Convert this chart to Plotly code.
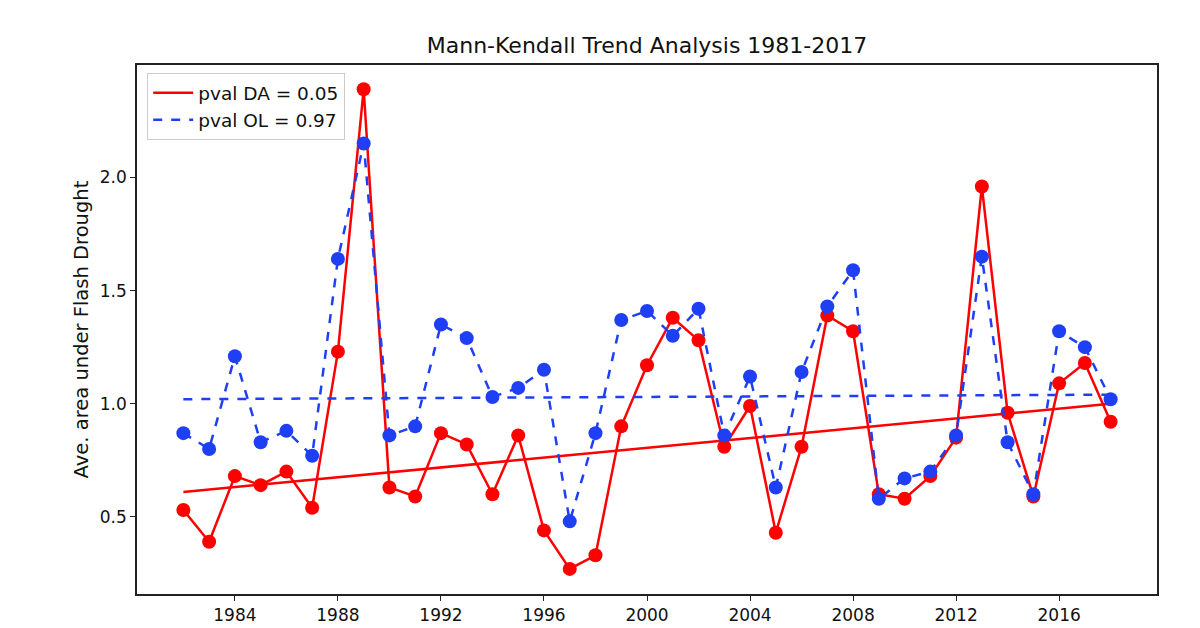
import plotly.graph_objects as go

years = list(range(1982, 2019))
da_values = [0.53, 0.39, 0.68, 0.64, 0.70, 0.54, 1.23, 2.39, 0.63, 0.59,
             0.87, 0.82, 0.60, 0.86, 0.44, 0.27, 0.33, 0.90, 1.17, 1.38,
             1.28, 0.81, 0.99, 0.43, 0.81, 1.39, 1.32, 0.60, 0.58, 0.68,
             0.85, 1.96, 0.96, 0.59, 1.09, 1.18, 0.92]
ol_values = [0.87, 0.80, 1.21, 0.83, 0.88, 0.77, 1.64, 2.15, 0.86, 0.90,
             1.35, 1.29, 1.03, 1.07, 1.15, 0.48, 0.87, 1.37, 1.41, 1.30,
             1.42, 0.86, 1.12, 0.63, 1.14, 1.43, 1.59, 0.58, 0.67, 0.70,
             0.86, 1.65, 0.83, 0.60, 1.32, 1.25, 1.02]
trend_years = [1982, 2018]
trend_da = [0.61, 1.00]
trend_ol = [1.02, 1.04]
legend_da = "pval DA = 0.05"
legend_ol = "pval OL = 0.97"
x_ticks = [1984, 1988, 1992, 1996, 2000, 2004, 2008, 2012, 2016]
y_ticks = [0.5, 1.0, 1.5, 2.0]

RED = "#ff0000"
BLUE = "#1f3ff5"

fig = go.Figure()
fig.add_trace(go.Scatter(x=years, y=da_values, mode="lines+markers", showlegend=False,
                         line=dict(color=RED, width=2.5),
                         marker=dict(color=RED, size=14)))
fig.add_trace(go.Scatter(x=trend_years, y=trend_da, mode="lines", name=legend_da,
                         line=dict(color=RED, width=2.5)))
fig.add_trace(go.Scatter(x=years, y=ol_values, mode="lines+markers", showlegend=False,
                         line=dict(color=BLUE, width=2.5, dash="dash"),
                         marker=dict(color=BLUE, size=14)))
fig.add_trace(go.Scatter(x=trend_years, y=trend_ol, mode="lines", name=legend_ol,
                         line=dict(color=BLUE, width=2.5, dash="dash")))

axis_common = dict(showline=True, linecolor="#222222", linewidth=1.5, mirror=True,
                   ticks="outside", ticklen=5, tickwidth=1.3, tickcolor="#222222",
                   showgrid=False, zeroline=False, automargin=False,
                   tickfont=dict(family="DejaVu Sans", size=17, color="#111111"))

fig.update_xaxes(range=[1980.2, 2019.8], tickvals=x_ticks, **axis_common)
fig.update_yaxes(range=[0.159, 2.497], tickvals=y_ticks, tickformat=".1f", **axis_common)

fig.add_annotation(text="Ave. area under Flash Drought", xref="paper", yref="paper",
                   x=(82 - 137) / 1018, y=1 - (330 - 65) / 530, xanchor="center",
                   yanchor="middle", textangle=-90, showarrow=False,
                   font=dict(family="DejaVu Sans", size=19.5, color="#111111"))

fig.update_layout(
    width=1200, height=628,
    margin=dict(l=137, r=43, t=65, b=34),
    paper_bgcolor="white", plot_bgcolor="white",
    title=dict(text="Mann-Kendall Trend Analysis 1981-2017", x=(137 + 1157) / 2 / 1200,
               xanchor="center", y=1 - 45 / 628, yanchor="middle", yref="container",
               font=dict(family="DejaVu Sans", size=22, color="#111111")),
    legend=dict(x=0.0098, y=0.985, xanchor="left", yanchor="top",
                bgcolor="rgba(255,255,255,0.9)", bordercolor="#cccccc", borderwidth=1.2,
                tracegroupgap=0, itemwidth=40,
                font=dict(family="DejaVu Sans", size=18.5, color="#111111")),
    showlegend=True,
)

fig.write_html("out.html")
